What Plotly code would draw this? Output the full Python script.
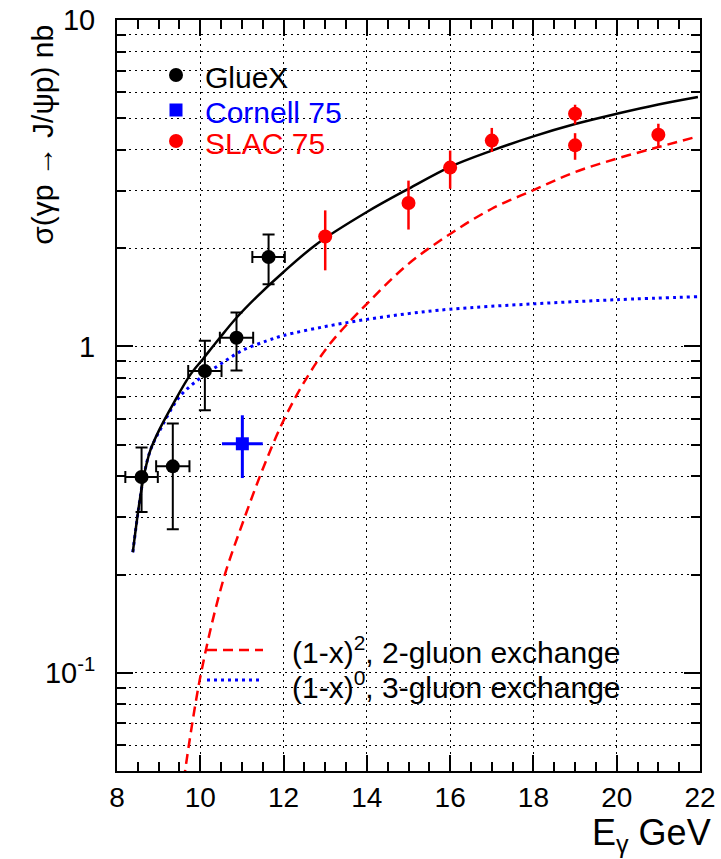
import plotly.graph_objects as go

# ---- data ----
gluex_e = [8.59, 9.34, 10.11, 10.87, 11.64]
gluex_s = [0.398, 0.429, 0.84, 1.063, 1.877]
gluex_s_up = [0.092, 0.151, 0.20, 0.207, 0.323]
gluex_s_dn = [0.087, 0.154, 0.203, 0.219, 0.327]
gluex_e_err = [0.39, 0.40, 0.40, 0.40, 0.39]

cornell_e = [11.01]
cornell_s = [0.503]
cornell_s_up = [0.112]
cornell_s_dn = [0.108]
cornell_e_err = [0.49]

slac_e = [13.0, 15.0, 16.0, 17.0, 19.0, 19.0, 21.0]
slac_s = [2.17, 2.75, 3.53, 4.27, 5.16, 4.13, 4.45]
slac_s_up = [0.44, 0.47, 0.45, 0.40, 0.34, 0.37, 0.36]
slac_s_dn = [0.46, 0.47, 0.49, 0.33, 0.37, 0.40, 0.34]

total_e = [8.38, 8.52, 8.64, 8.80, 9.03, 9.35, 9.75, 10.07, 10.47, 10.87, 11.35, 12.0, 12.8,
           14.0, 15.0, 16.0, 17.0, 18.0, 19.0, 20.0, 21.0, 21.95]
total_s = [0.234, 0.32, 0.398, 0.48, 0.56, 0.667, 0.815, 0.917, 1.063, 1.224, 1.416, 1.69, 2.06,
           2.58, 3.04, 3.55, 3.98, 4.40, 4.80, 5.16, 5.51, 5.81]

two_g_e = [9.55, 10.0, 10.55, 11.04, 11.52, 12.0, 12.52, 13.12, 14.0, 15.0, 16.0, 17.0, 18.0,
           19.0, 20.0, 21.0, 21.95]
two_g_s = [0.042, 0.097, 0.192, 0.293, 0.427, 0.593, 0.787, 1.02, 1.35, 1.79, 2.21, 2.64, 3.01,
           3.42, 3.76, 4.08, 4.40]

three_g_e = [8.38, 8.52, 8.64, 8.80, 9.07, 9.5, 10.0, 10.5, 11.0, 11.6, 12.0,
             13.0, 14.0, 15.0, 16.0, 18.0, 20.0, 21.95]
three_g_s = [0.234, 0.32, 0.398, 0.48, 0.566, 0.70, 0.80, 0.885, 0.97, 1.04, 1.08,
             1.15, 1.21, 1.26, 1.30, 1.35, 1.39, 1.42]

x_ticks = [8, 10, 12, 14, 16, 18, 20, 22]
y_major = [0.1, 1, 10]
y_major_text = ["10<sup>-1</sup>", "1", "10"]
y_minor = [0.05, 0.06, 0.07, 0.08, 0.09, 0.2, 0.3, 0.4, 0.5, 0.6, 0.7, 0.8, 0.9,
           2, 3, 4, 5, 6, 7, 8, 9]

legend_names = ["GlueX", "Cornell 75", "SLAC 75"]
legend_colors = ["black", "#0000ff", "#ff0000"]
legend_symbols = ["circle", "rect", "circle"]
curve_names = ["(1-x)<sup>2</sup>, 2-gluon exchange", "(1-x)<sup>0</sup>, 3-gluon exchange"]

FONT = "Liberation Sans, Arial, sans-serif"

fig = go.Figure()

fig.add_trace(go.Scatter(
    x=two_g_e, y=two_g_s, mode="lines", line_shape="spline",
    line=dict(color="#ff0000", width=2.5, dash="10px,6px"),
    name=curve_names[0], showlegend=False))
fig.add_trace(go.Scatter(
    x=three_g_e, y=three_g_s, mode="lines", line_shape="spline",
    line=dict(color="#0000ff", width=3, dash="3px,4px"),
    name=curve_names[1], showlegend=False))
fig.add_trace(go.Scatter(
    x=total_e, y=total_s, mode="lines", line_shape="spline",
    line=dict(color="black", width=2.5), showlegend=False))

fig.add_trace(go.Scatter(
    x=gluex_e, y=gluex_s, mode="markers", name=legend_names[0], showlegend=False,
    marker=dict(symbol="circle", size=14, color="black"),
    error_y=dict(type="data", array=gluex_s_up, arrayminus=gluex_s_dn, color="black",
                 thickness=2, width=6),
    error_x=dict(type="data", array=gluex_e_err, color="black", thickness=2, width=6)))
fig.add_trace(go.Scatter(
    x=cornell_e, y=cornell_s, mode="markers", name=legend_names[1], showlegend=False,
    marker=dict(symbol="square", size=13, color="#0000ff"),
    error_y=dict(type="data", array=cornell_s_up, arrayminus=cornell_s_dn, color="#0000ff",
                 thickness=3, width=0),
    error_x=dict(type="data", array=cornell_e_err, color="#0000ff", thickness=3, width=0)))
fig.add_trace(go.Scatter(
    x=slac_e, y=slac_s, mode="markers", name=legend_names[2], showlegend=False,
    marker=dict(symbol="circle", size=14, color="#ff0000"),
    error_y=dict(type="data", array=slac_s_up, arrayminus=slac_s_dn, color="#ff0000",
                 thickness=2.5, width=0)))

GD = "2px,4px"
fig.update_layout(
    width=721, height=859,
    margin=dict(l=117, r=21, t=20, b=88),
    paper_bgcolor="white", plot_bgcolor="white",
    font=dict(family=FONT, size=26, color="black"),
    showlegend=False,
    xaxis=dict(range=[8, 22], tickvals=x_ticks, ticks="inside", ticklen=16,
               tickwidth=1.5, tickcolor="black", showline=True, linecolor="black",
               linewidth=2, mirror="ticks", zeroline=False, automargin=False,
               tickfont=dict(size=28),
               showgrid=True, gridcolor="black", griddash=GD, gridwidth=1,
               minor=dict(dtick=0.5, tick0=8, ticks="inside", ticklen=9,
                          tickcolor="black", tickwidth=1.5, showgrid=False)),
    yaxis=dict(type="log", range=[-1.30103, 1], tickvals=y_major, ticktext=y_major_text,
               ticks="inside", ticklen=16, tickwidth=1.5, tickcolor="black",
               showline=True, linecolor="black", linewidth=2, mirror="ticks",
               zeroline=False, automargin=False, tickfont=dict(size=29),
               ticklabelstandoff=14,
               showgrid=True, gridcolor="black", griddash=GD, gridwidth=1,
               minor=dict(tickvals=y_minor, ticks="inside", ticklen=9, tickcolor="black",
                          tickwidth=1.5, showgrid=True, gridcolor="black",
                          griddash=GD, gridwidth=1)),
)

# ---- manual legend (top-left, markers) ----
def px_x(p):
    return (p - 117) / 583.0

def px_y(p):
    return (771 - p) / 751.0

row_y = [75, 110, 141]
for name, col, sym, ry in zip(legend_names, legend_colors, legend_symbols, row_y):
    h = 7 if sym == "circle" else 6.5
    fig.add_shape(type=sym, xref="paper", yref="paper",
                  xsizemode="pixel", ysizemode="pixel",
                  xanchor=px_x(176), yanchor=px_y(ry),
                  x0=-h, x1=h, y0=-h, y1=h,
                  fillcolor=col, line=dict(color=col, width=0))
    fig.add_annotation(text=name, xref="paper", yref="paper",
                       x=px_x(203), y=px_y(ry + 2), xanchor="left", yanchor="middle",
                       showarrow=False, font=dict(size=30, color=col))

# ---- manual legend (bottom, curves) ----
curve_rows = [650, 680]
curve_text_y = [650, 685]
curve_styles = [dict(color="#ff0000", width=2.5, dash="10px,6px"),
                dict(color="#0000ff", width=3, dash="3px,4px")]
for nm, ry, ty, st in zip(curve_names, curve_rows, curve_text_y, curve_styles):
    fig.add_shape(type="line", xref="paper", yref="paper",
                  x0=px_x(207), x1=px_x(263), y0=px_y(ry), y1=px_y(ry), line=st)
    fig.add_annotation(text=nm, xref="paper", yref="paper",
                       x=px_x(290), y=px_y(ty), xanchor="left", yanchor="middle",
                       showarrow=False, font=dict(size=30, color="black"))

fig.add_annotation(text="σ(γp → J/ψp) nb", xref="paper", yref="paper",
                   x=-0.129, y=0.996, xanchor="center", yanchor="top", textangle=-90,
                   showarrow=False, font=dict(size=30))
fig.add_annotation(text="E<sub>γ</sub> GeV", xref="paper", yref="paper",
                   x=1.022, y=-0.052, xanchor="right", yanchor="top",
                   showarrow=False, font=dict(size=36))

fig.write_html("out.html")
